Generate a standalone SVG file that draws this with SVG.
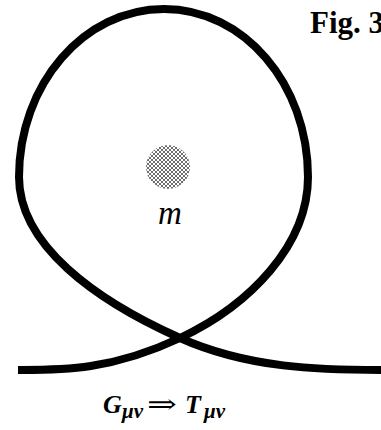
<svg xmlns="http://www.w3.org/2000/svg" width="381" height="430" viewBox="0 0 381 430">
<style>
.curve{fill:none;stroke:#000;stroke-width:8;stroke-linecap:butt;stroke-linejoin:round}
.serif{font-family:"Liberation Serif","Times New Roman",serif;fill:#000}
.bi{font-weight:bold;font-style:italic}
</style>
<defs>
<pattern id="hatch" width="4" height="4" patternUnits="userSpaceOnUse">
<rect width="4" height="4" fill="#fff"/>
<path d="M0,0 L4,4 M4,0 L0,4" stroke="#555" stroke-width="0.85"/>
</pattern>
</defs>
<rect width="381" height="430" fill="#fff"/>
<g id="connectors">
<path id="loop" class="curve" d="M18,370 C60,370 110,371 180,338 C250,305 308,245 308,177 C308,84 244,9 164,9 C84,9 19,84 19,177 C19,245 95,300 180,338 C248,368.4 320,370 381,370"/>
</g>
<g id="mass">
<circle cx="168" cy="167" r="22" fill="url(#hatch)"/>
<text class="serif" x="170" y="224" font-size="33" font-style="italic" text-anchor="middle">m</text>
</g>
<g id="title">
<text class="serif" x="310" y="33" font-size="31" font-weight="bold">Fig. 3</text>
</g>
<g id="equation">
<text class="serif bi" y="413" font-size="26"><tspan x="103">G</tspan><tspan x="122" dy="5" font-size="21">μν</tspan></text>
<text x="147" y="413" font-size="26" font-family="DejaVu Serif,serif" textLength="30" lengthAdjust="spacingAndGlyphs">⇒</text>
<text class="serif bi" y="413" font-size="26"><tspan x="185">T</tspan><tspan x="204" dy="5" font-size="21">μν</tspan></text>
</g>
</svg>
